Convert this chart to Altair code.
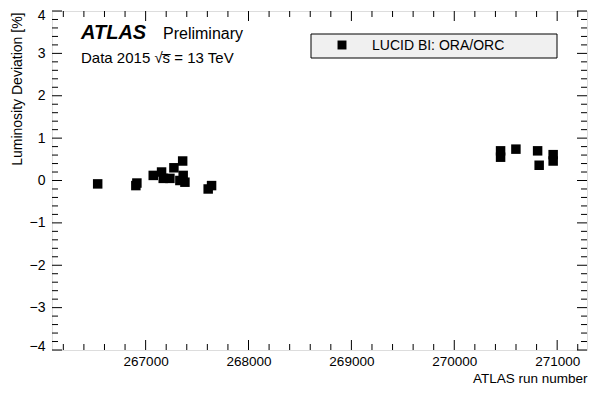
import altair as alt
import pandas as pd

# ---- data ----
run_numbers = [266534, 266905, 266915, 267074, 267155, 267171, 267236, 267275,
               267360, 267365, 267333, 267382, 267608, 267641,
               270450, 270450, 270599, 270810, 270825, 270961, 270961]
deviation = [-0.08, -0.12, -0.06, 0.12, 0.20, 0.05, 0.05, 0.30,
             0.46, 0.12, 0.00, -0.04, -0.20, -0.12,
             0.70, 0.55, 0.74, 0.70, 0.36, 0.61, 0.46]
legend_labels = ["LUCID BI: ORA/ORC"]

x_major = [267000, 268000, 269000, 270000, 271000]
x_minor = [266200, 266400, 266600, 266800, 267200, 267400, 267600, 267800,
           268200, 268400, 268600, 268800, 269200, 269400, 269600, 269800,
           270200, 270400, 270600, 270800, 271200]
y_major = [-4, -3, -2, -1, 0, 1, 2, 3, 4]
y_minor = [-3.8, -3.6, -3.4, -3.2, -2.8, -2.6, -2.4, -2.2, -1.8, -1.6, -1.4, -1.2,
           -0.8, -0.6, -0.4, -0.2, 0.2, 0.4, 0.6, 0.8, 1.2, 1.4, 1.6, 1.8,
           2.2, 2.4, 2.6, 2.8, 3.2, 3.4, 3.6, 3.8]

W, H = 535, 339
FONT = "Liberation Sans"
MAJ, MIN = 10, 6

df = pd.DataFrame({"run": run_numbers, "dev": deviation})
xs = alt.Scale(domain=[266090, 271290], nice=False, zero=False)
ys = alt.Scale(domain=[-4, 4], nice=False, zero=False)

points = alt.Chart(df).mark_square(size=90, color="black", opacity=1).encode(
    x=alt.X("run:Q", scale=xs, axis=alt.Axis(
        values=x_major, format="d", ticks=False, tickSize=0, domain=False, grid=False,
        labelFont=FONT, labelFontSize=13.5, labelColor="black", labelPadding=4,
        title="ATLAS run number", titleFont=FONT, titleFontSize=13.5,
        titleFontWeight="normal", titleColor="black", titleAlign="right",
        titleAnchor="end", titleBaseline="middle", titleX=W, titleY=28)),
    y=alt.Y("dev:Q", scale=ys, axis=alt.Axis(
        values=y_major, format="d", ticks=False, tickSize=0, domain=False, grid=False,
        labelFont=FONT, labelFontSize=14, labelColor="black", labelPadding=7,
        labelFlush=True, labelFlushOffset=3,
        title="Luminosity Deviation [%]", titleFont=FONT, titleFontSize=14,
        titleFontWeight="normal", titleColor="black", titleAngle=-90,
        titleAlign="right", titleBaseline="middle", titleX=-35, titleY=1)),
)


def xticks(vals, length):
    d = pd.DataFrame({"t": vals})
    bot = alt.Chart(d).mark_rule(color="black", strokeWidth=1).encode(
        x=alt.X("t:Q", scale=xs), y=alt.value(H), y2=alt.value(H - length))
    top = alt.Chart(d).mark_rule(color="black", strokeWidth=1).encode(
        x=alt.X("t:Q", scale=xs), y=alt.value(0), y2=alt.value(length))
    return [bot, top]


def yticks(vals, length):
    d = pd.DataFrame({"t": vals})
    left = alt.Chart(d).mark_rule(color="black", strokeWidth=1).encode(
        y=alt.Y("t:Q", scale=ys), x=alt.value(0), x2=alt.value(length))
    right = alt.Chart(d).mark_rule(color="black", strokeWidth=1).encode(
        y=alt.Y("t:Q", scale=ys), x=alt.value(W), x2=alt.value(W - length))
    return [left, right]


tick_layers = xticks(x_major, MAJ) + xticks(x_minor, MIN) + yticks(y_major, MAJ) + yticks(y_minor, MIN)

one = pd.DataFrame({"label": legend_labels})
leg_box = alt.Chart(one).mark_rect(fill="#f0f0f0", stroke="black", strokeWidth=1).encode(
    x=alt.value(259), x2=alt.value(505), y=alt.value(23), y2=alt.value(47))
leg_sym = alt.Chart(one).mark_square(size=80, color="black", opacity=1).encode(
    x=alt.value(290), y=alt.value(34))
leg_txt = alt.Chart(one).mark_text(font=FONT, fontSize=14, align="left",
                                   baseline="middle", color="black").encode(
    x=alt.value(320), y=alt.value(35), text="label:N")

atlas = alt.Chart(one).mark_text(text="ATLAS", font=FONT, fontSize=20, fontWeight="bold",
                                 fontStyle="italic", align="left", baseline="alphabetic",
                                 color="black").encode(x=alt.value(29), y=alt.value(28))
prelim = alt.Chart(one).mark_text(text="Preliminary", font=FONT, fontSize=16,
                                  align="left", baseline="alphabetic",
                                  color="black").encode(x=alt.value(111), y=alt.value(28))
data_txt = alt.Chart(one).mark_text(text="Data 2015 √s̅ = 13 TeV", font=FONT, fontSize=15,
                                    align="left", baseline="alphabetic",
                                    color="black").encode(x=alt.value(29), y=alt.value(52))

chart = alt.layer(points, *tick_layers, leg_box, leg_sym, leg_txt, atlas, prelim, data_txt).properties(
    width=W, height=H,
    autosize=alt.AutoSizeParams(type="none"),
    padding={"left": 44, "top": 3, "right": 3, "bottom": 35},
).configure_view(stroke="black", strokeWidth=1).configure(background="white")

chart.save("out.html", embed_options={"renderer": "svg", "actions": False})
